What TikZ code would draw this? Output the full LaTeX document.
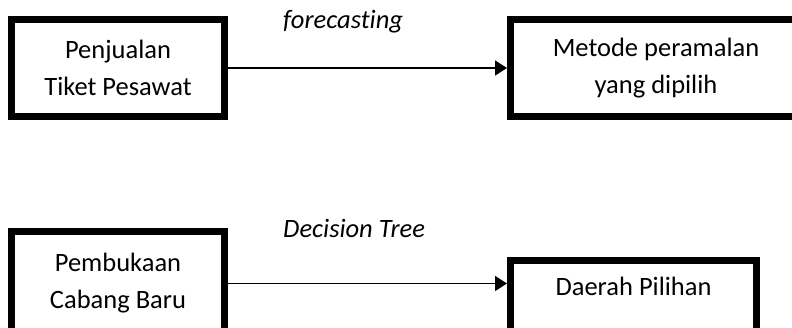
\documentclass[tikz,border=0pt]{standalone}
\usepackage{fontspec}
\setmainfont{Carlito}[Ligatures=NoCommon]
\usepackage{tikz}
\usetikzlibrary{arrows.meta,positioning,calc}

\begin{document}
\begin{tikzpicture}[
    x=1pt, y=-1pt,
    font=\fontsize{26.5}{37}\selectfont,
    blok/.style={rectangle, draw=black, line width=7pt, inner sep=0pt, minimum width=213pt, minimum height=97pt},
    panah/.style={-{Triangle[length=12pt, width=15pt]}, line width=1.5pt},
    metode/.style={font=\fontsize{26.5}{37}\selectfont\itshape, inner sep=0pt, anchor=base west}
]
    \useasboundingbox (0,0) rectangle (792,327);

    % Forecasting row
    \node[blok, align=center] (jual) at (118, 68) {Penjualan\\Tiket Pesawat};
    \node[blok, align=center, minimum width=291pt] (ramal) at (656, 68) {Metode peramalan\\yang dipilih};

    % Decision tree row
    \node[blok, align=center, minimum height=104pt] (cabang) at (118, 283.5) {Pembukaan\\Cabang Baru};
    \node[blok, minimum width=246pt, minimum height=0pt, text height=35.5pt, text depth=75pt, anchor=north] (daerah) at (633.5, 256.5) {Daerah Pilihan};

    % Arrows
    \draw[panah] (jual.east) -- (jual.east -| ramal.west);
    \draw[panah] (cabang.east) -- (cabang.east -| daerah.west);

    % Method labels
    \node[metode] (lblramal) at (283, 28) {forecasting};
    \node[metode] (lblpohon) at (283, 237) {Decision Tree};
\end{tikzpicture}
\end{document}
